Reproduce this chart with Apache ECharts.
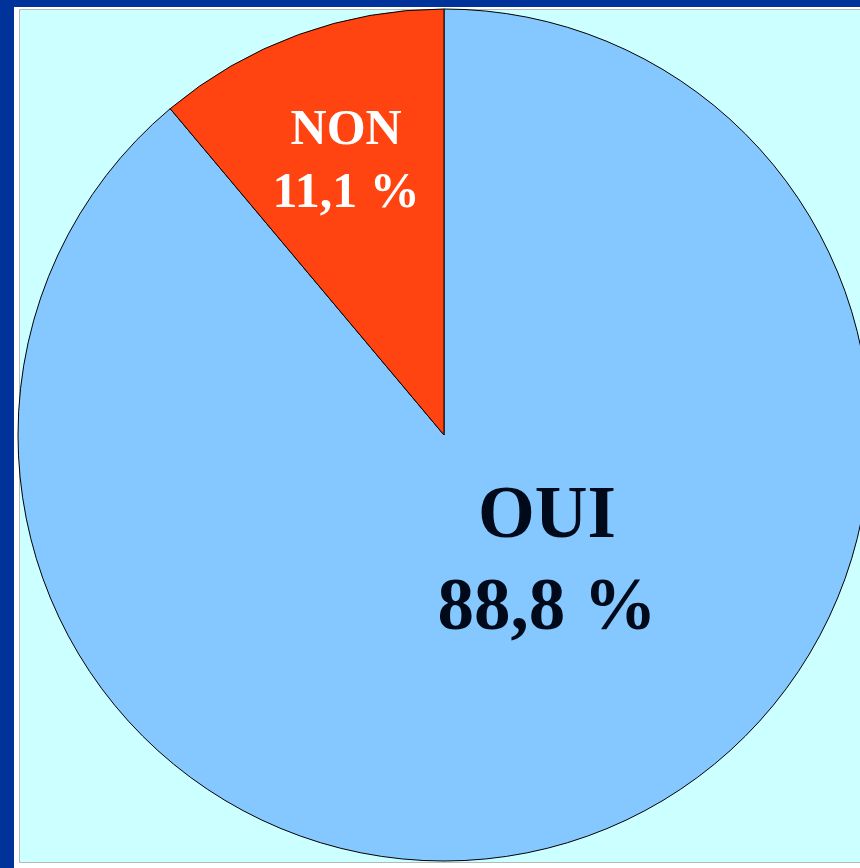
<!DOCTYPE html>
<html>
<head>
<meta charset="utf-8">
<script src="https://cdn.jsdelivr.net/npm/echarts@6/dist/echarts.min.js"></script>
<style>
html,body{margin:0;padding:0;background:#fff;width:860px;height:868px;overflow:hidden;}
#top{position:absolute;left:0;top:0;width:860px;height:7px;background:#003399;}
#left{position:absolute;left:0;top:0;width:14px;height:868px;background:#003399;}
#panel{position:absolute;left:19px;top:9px;width:860px;height:854px;background:#ccffff;border:1px solid #b8b8b8;box-sizing:border-box;}
#chart{position:absolute;left:0;top:0;width:860px;height:868px;}
</style>
</head>
<body>
<div id="top"></div>
<div id="left"></div>
<div id="panel"></div>
<div id="chart"></div>
<script>
const categories = ["OUI", "NON"];
const values = [88.8, 11.1];
const sliceColors = ["#85c8ff", "#ff4411"];

const chart = echarts.init(document.getElementById('chart'), null, {renderer: 'canvas'});
const fmt = v => String(v).replace('.', ',') + ' %';
chart.setOption({
  backgroundColor: 'transparent',
  animation: false,
  series: [{
    type: 'pie',
    center: [444, 435],
    radius: [0, 426],
    startAngle: 90,
    clockwise: true,
    avoidLabelOverlap: false,
    labelLine: {show: false},
    itemStyle: {borderColor: '#000', borderWidth: 1},
    emphasis: {disabled: true},
    data: categories.map((c, i) => {
      const big = i === 0;
      return {
        name: c,
        value: values[i],
        itemStyle: {color: sliceColors[i]},
        label: {
          show: true,
          position: 'inside',
          formatter: p => p.name + '\n' + fmt(p.value),
          fontFamily: 'Liberation Serif',
          fontWeight: 'bold',
          fontSize: big ? 73 : 50,
          lineHeight: big ? 92 : 63,
          color: big ? '#000a1a' : '#ffffff',
          offset: big ? [29, -74] : [-24, -69]
        }
      };
    })
  }]
});
</script>
</body>
</html>
